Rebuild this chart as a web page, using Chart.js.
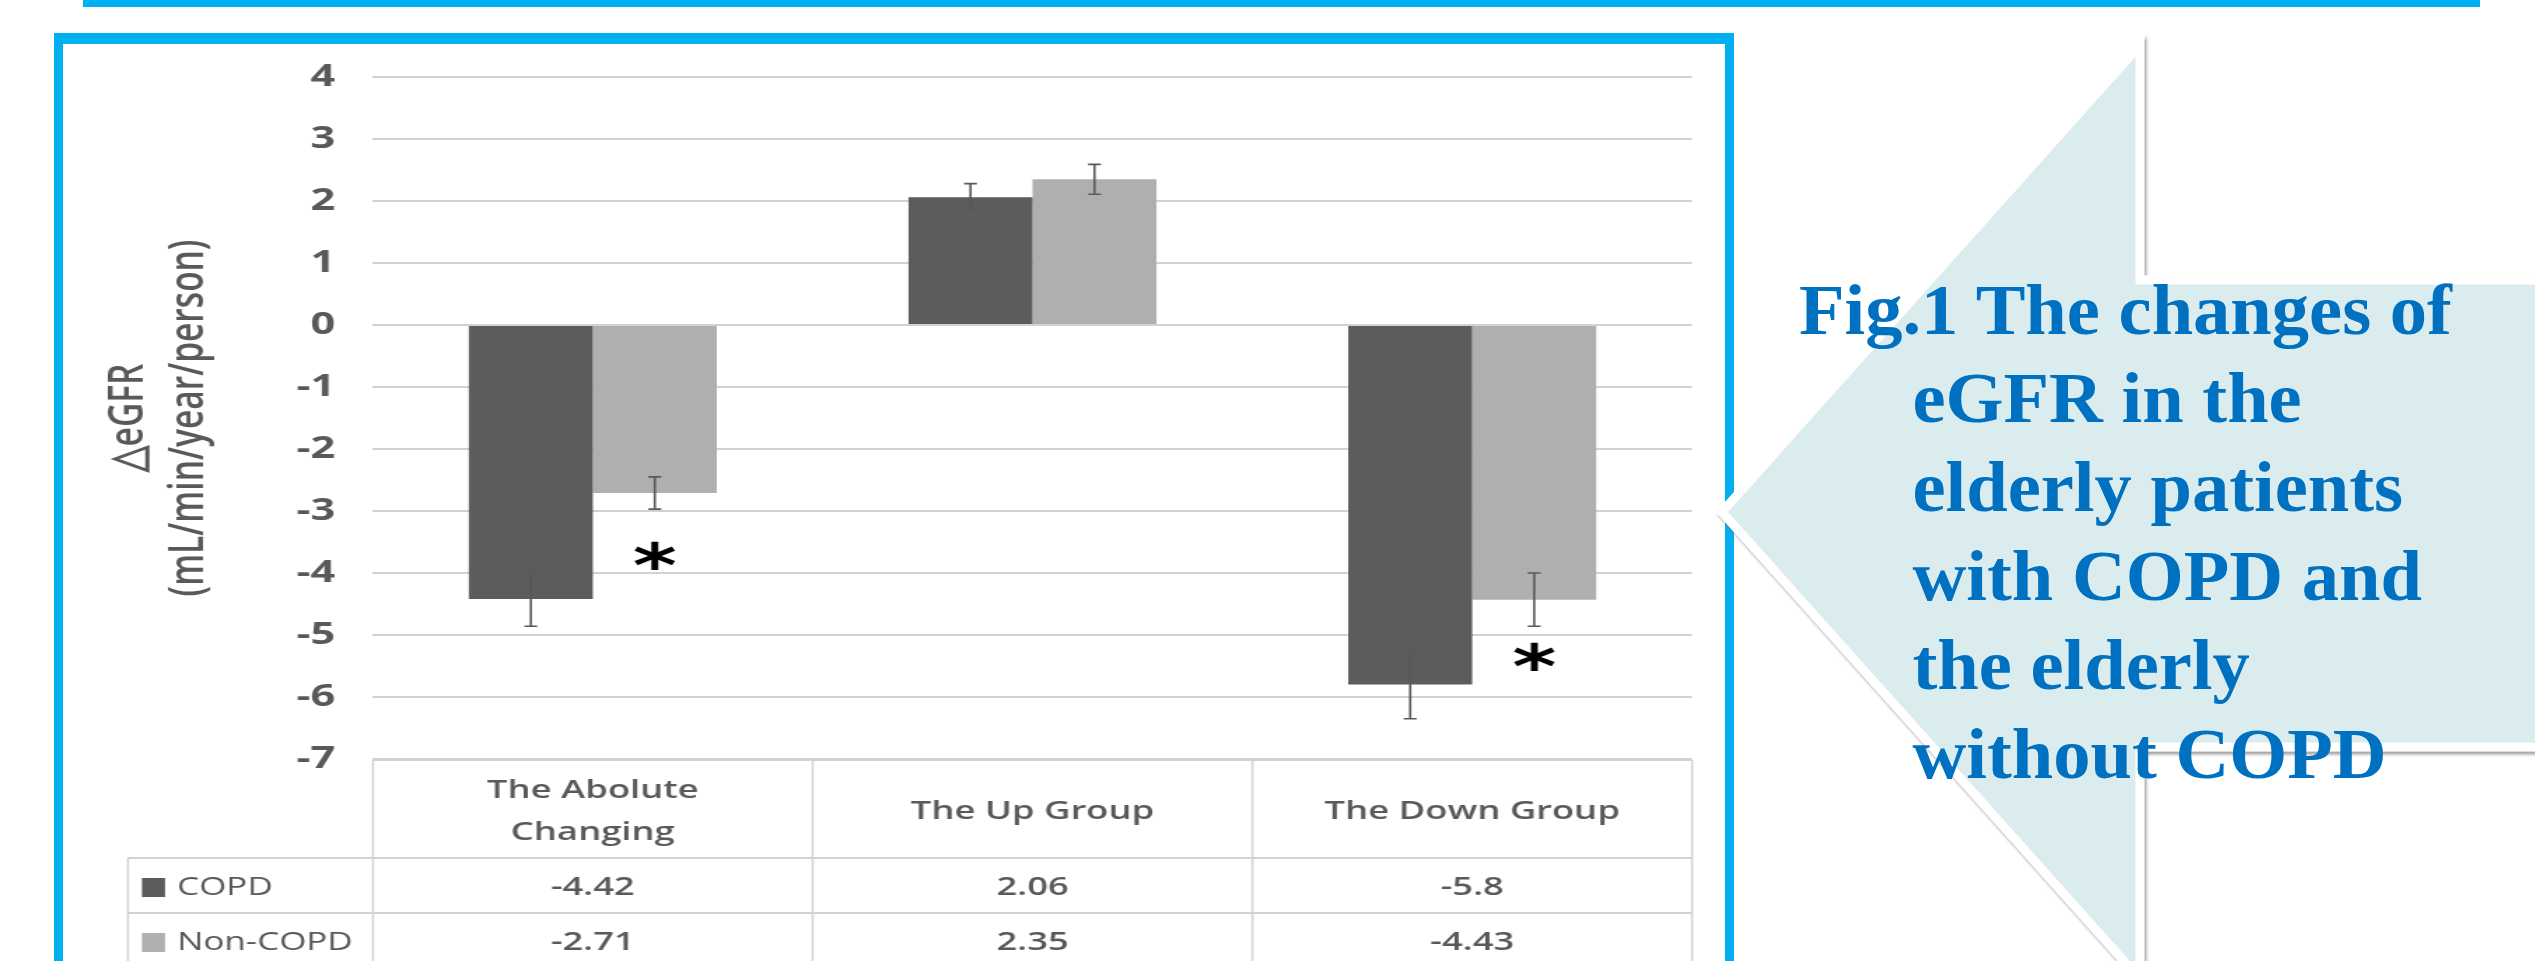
<!DOCTYPE html>
<html>
<head>
<meta charset="utf-8">
<script src="https://cdn.jsdelivr.net/npm/chart.js@4.4.1/dist/chart.umd.min.js"></script>
<style>
  html, body { margin: 0; padding: 0; background: #fff; }
  body { width: 2535px; height: 961px; overflow: hidden; position: relative; }
  #rule { position: absolute; left: 83px; top: 0; width: 2397px; height: 7px; background: #00b0f0; }
  #frame { position: absolute; left: 54px; top: 33px; width: 1662px; height: 1000px;
           border-style: solid; border-color: #00b0f0; border-width: 11px 9px 0 9px; background: #fff; }
  #stretch { position: absolute; left: 0; top: 0; width: 1187px; height: 917px;
             transform: scaleX(1.4); transform-origin: 0 0; }
  #arrow { position: absolute; left: 0; top: 0; }
  #caption { position: absolute; left: 1906.6px; top: 265.6px; white-space: nowrap;
             font: bold 71px/88.8px "Liberation Serif", "Times New Roman", serif;
             color: #0070c0; text-indent: -108.1px;
             transform: scaleX(1.05); transform-origin: -108.1px 0; }
</style>
</head>
<body>
<div id="rule"></div>
<div id="frame">
  <div id="stretch"><canvas id="chart" width="1187" height="917"></canvas></div>
</div>
<svg id="arrow" width="2535" height="961" viewBox="0 0 2535 961">
  <defs>
    <filter id="shade" x="-5%" y="-5%" width="110%" height="110%">
      <feDropShadow dx="2" dy="3" stdDeviation="1.6" flood-color="#7a7a7a" flood-opacity="0.7"/>
    </filter>
  </defs>
  <polygon points="1722,512 2140,45 2140,280 2570,280 2570,747 2140,747 2140,979"
           fill="#daecee" stroke="#ffffff" stroke-width="9" stroke-linejoin="miter" filter="url(#shade)"/>
</svg>
<div id="caption">Fig.1 The changes of<br>eGFR in the<br>elderly patients<br>with COPD and<br>the elderly<br>without COPD</div>

<script>
// Groups, series and values shown in the chart and its data table
const categories = ['The Abolute Changing', 'The Up Group', 'The Down Group'];
const categoryHeaders = [['The Abolute', 'Changing'], ['The Up Group'], ['The Down Group']];
const seriesNames = ['COPD', 'Non-COPD'];
const copdValues = [-4.42, 2.06, -5.8];
const nonCopdValues = [-2.71, 2.35, -4.43];
const copdErrors = [0.44, 0.22, 0.55];
const nonCopdErrors = [0.26, 0.24, 0.43];
const significance = ['*', '', '*'];
const significanceAt = [-3.72, null, -5.35];
const yMin = -7;
const yMax = 4;
const yStep = 1;
const yTitle = ['\u25B3eGFR', '(mL/min/year/person)'];

const seriesColors = ['#5c5c5c', '#afafaf'];
const textColor = '#595959';
const lineColor = '#d2d2d2';

// Error bars and significance stars on top of the bars
const errorBars = {
  id: 'errorBars',
  afterDatasetsDraw(chart) {
    const { ctx, scales: { y } } = chart;
    ctx.save();
    ctx.strokeStyle = '#595959';
    ctx.lineWidth = 1.6;
    chart.data.datasets.forEach((ds, di) => {
      chart.getDatasetMeta(di).data.forEach((bar, i) => {
        const v = ds.data[i], e = ds.errors[i];
        const yHi = y.getPixelForValue(v + e);
        const yLo = y.getPixelForValue(v - e);
        const cap = 4.6;
        ctx.beginPath();
        ctx.moveTo(bar.x, yHi); ctx.lineTo(bar.x, yLo);
        ctx.moveTo(bar.x - cap, yHi); ctx.lineTo(bar.x + cap, yHi);
        ctx.moveTo(bar.x - cap, yLo); ctx.lineTo(bar.x + cap, yLo);
        ctx.stroke();
      });
    });
    // stars sit under the Non-COPD bar of each marked group
    ctx.fillStyle = '#000';
    ctx.font = 'bold 60px "DejaVu Sans"';
    ctx.textAlign = 'center';
    ctx.textBaseline = 'alphabetic';
    const meta = chart.getDatasetMeta(1);
    significance.forEach((mark, i) => {
      if (!mark || significanceAt[i] === null) return;
      const m = ctx.measureText(mark);
      const mid = (m.actualBoundingBoxAscent - m.actualBoundingBoxDescent) / 2;
      ctx.fillText(mark, meta.data[i].x, y.getPixelForValue(significanceAt[i]) + mid);
    });
    ctx.restore();
  }
};

// Data table under the plot: group headers, legend keys and values
const dataTable = {
  id: 'dataTable',
  afterDraw(chart) {
    const { ctx, chartArea, scales: { x } } = chart;
    const half = (x.getPixelForValue(1) - x.getPixelForValue(0)) / 2;
    const edges = categories.map((_, i) => x.getPixelForValue(i) - half);
    edges.push(x.getPixelForValue(categories.length - 1) + half);
    const top = chartArea.bottom + 1;
    const headBottom = top + 98;
    const rowH = 55;
    const legendLeft = 46.4;
    const rowsBottom = headBottom + rowH * seriesNames.length;
    const cellFont = '600 26px "Open Sans"';

    ctx.save();
    ctx.strokeStyle = lineColor;
    ctx.lineWidth = 2;
    ctx.beginPath();
    ctx.moveTo(edges[0], top); ctx.lineTo(edges[edges.length - 1], top);
    for (let r = 0; r <= seriesNames.length; r++) {
      const yy = headBottom + r * rowH;
      ctx.moveTo(legendLeft, yy); ctx.lineTo(edges[edges.length - 1], yy);
    }
    ctx.stroke();
    ctx.lineWidth = 1.5;
    ctx.beginPath();
    edges.forEach(ex => { ctx.moveTo(ex, top); ctx.lineTo(ex, rowsBottom); });
    ctx.moveTo(legendLeft, headBottom); ctx.lineTo(legendLeft, rowsBottom);
    ctx.stroke();

    ctx.fillStyle = textColor;
    ctx.textAlign = 'center';
    ctx.textBaseline = 'middle';
    ctx.font = cellFont;
    categoryHeaders.forEach((lines, i) => {
      const cx = (edges[i] + edges[i + 1]) / 2;
      const cy = (top + headBottom) / 2 + 3;
      const lh = 42;
      lines.forEach((t, k) => {
        ctx.fillText(t, cx, cy + (k - (lines.length - 1) / 2) * lh);
      });
    });
    chart.data.datasets.forEach((ds, r) => {
      const cy = headBottom + r * rowH + rowH / 2 + 2;
      ctx.font = cellFont;
      ctx.textAlign = 'center';
      ctx.fillStyle = textColor;
      ds.data.forEach((v, i) => {
        ctx.fillText(String(v), (edges[i] + edges[i + 1]) / 2, cy);
      });
      ctx.fillStyle = ds.backgroundColor;
      ctx.fillRect(56.4, cy - 9.5, 16.5, 19);
      ctx.fillStyle = textColor;
      ctx.textAlign = 'left';
      ctx.font = '25px "Open Sans"';
      ctx.fillText(ds.label, 81.4, cy);
    });
    ctx.restore();
  }
};

new Chart(document.getElementById('chart'), {
  type: 'bar',
  data: {
    labels: categories,
    datasets: [
      { label: seriesNames[0], data: copdValues, errors: copdErrors, backgroundColor: seriesColors[0] },
      { label: seriesNames[1], data: nonCopdValues, errors: nonCopdErrors, backgroundColor: seriesColors[1] }
    ]
  },
  options: {
    responsive: false,
    animation: false,
    events: [],
    layout: { padding: { left: 0, right: 23.4, top: 33, bottom: 202 } },
    datasets: { bar: { categoryPercentage: 0.564, barPercentage: 1, borderWidth: 0 } },
    plugins: { legend: { display: false }, tooltip: { enabled: false } },
    scales: {
      x: { display: false },
      y: {
        min: yMin,
        max: yMax,
        afterFit(scale) {
          scale.width = 221.4;
          scale.paddingTop = 10;
          scale.paddingBottom = 10;
        },
        ticks: {
          stepSize: yStep,
          padding: 27,
          color: textColor,
          font: { family: 'Open Sans', weight: 'bold', size: 31 }
        },
        grid: { color: lineColor, lineWidth: 2, drawTicks: false },
        border: { display: false },
        title: {
          display: true,
          text: yTitle,
          color: textColor,
          font: { family: 'Open Sans', weight: 600, size: 33.5, lineHeight: 1.28 },
          padding: { top: 26.4, bottom: 0 }
        }
      }
    }
  },
  plugins: [errorBars, dataTable]
});
</script>
</body>
</html>
